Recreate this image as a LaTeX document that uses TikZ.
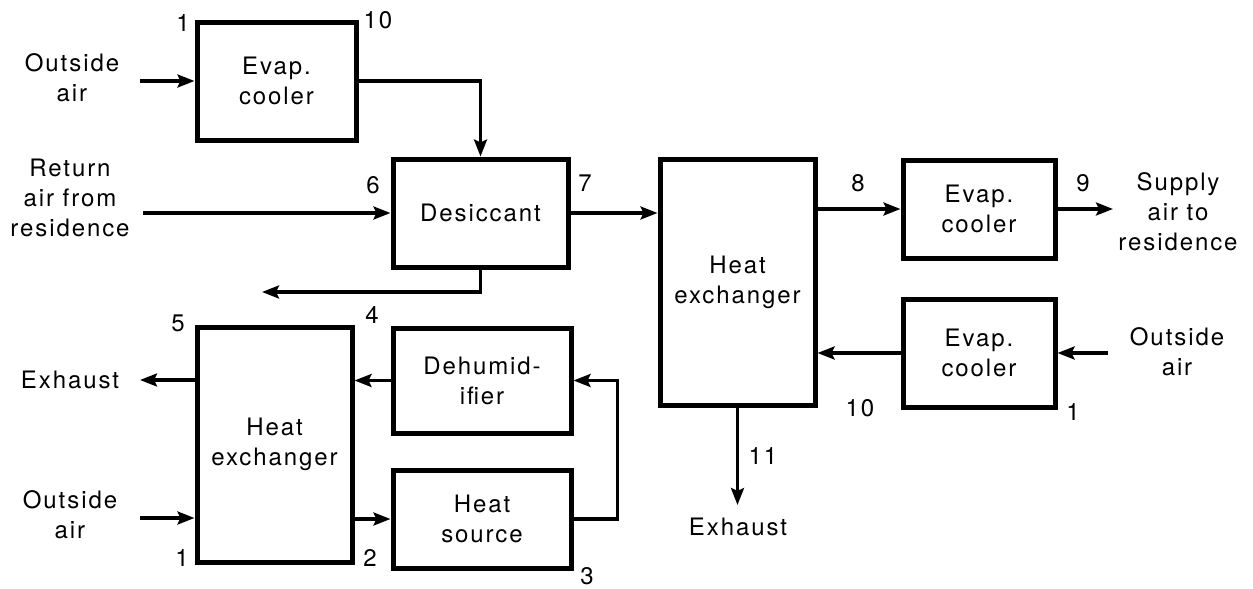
\documentclass[tikz,border=0pt]{standalone}
\usepackage{fontspec}
\setmainfont{TeX Gyre Heros}[LetterSpace=8]
\usetikzlibrary{arrows.meta}
\begin{document}
\begin{tikzpicture}[x=1pt,y=-1pt,
  every node/.style={font=\fontsize{24}{30}\selectfont, align=center, inner sep=0pt},
  box/.style={draw, line width=5pt},
  flow/.style={line width=3.2pt, -{Stealth[length=17pt,width=13pt,inset=3pt]}},
  pipe/.style={line width=3.2pt}]
\useasboundingbox (0,0) rectangle (1253,589);

% boxes
\node[box, minimum width=159pt, minimum height=118pt] (ec1) at (276.5,81) {Evap.\\cooler};
\node[box, minimum width=175pt, minimum height=108pt] (des) at (480.5,213) {Desiccant};
\node[box, minimum width=155pt, minimum height=235pt] (hx1) at (274.5,444.5) {Heat\\exchanger};
\node[box, minimum width=178pt, minimum height=105pt] (dhm) at (482,380.5) {Dehumid-\\ifier};
\node[box, minimum width=178pt, minimum height=98pt] (hs) at (482,519) {Heat\\source};
\node[box, minimum width=155pt, minimum height=246pt] (hx2) at (737.5,282) {Heat\\exchanger};
\node[box, minimum width=152pt, minimum height=98pt] (ec2) at (979,209) {Evap.\\cooler};
\node[box, minimum width=152pt, minimum height=108pt] (ec3) at (979,353) {Evap.\\cooler};

% free texts
\node (oa1) at (72,78) {Outside\\air};
\node (ret) at (70,198) {Return\\air from\\residence};
\node (sup) at (1178,212) {Supply\\air to\\residence};
\node (oa2) at (1177,352) {Outside\\air};
\node (exl) at (70,380) {Exhaust};
\node (oa3) at (70,515) {Outside\\air};
\node (exb) at (738,527) {Exhaust};

% free ends
\coordinate (a1) at (140,81);
\coordinate (a2) at (143,213);
\coordinate (a3) at (262,292);
\coordinate (a4) at (1113,209);
\coordinate (a5) at (1108,353);
\coordinate (a6) at (737.5,505);
\coordinate (a7) at (140,380);
\coordinate (a8) at (140,518);

% connectors
\draw[flow] (a1) -- (ec1.west);
\draw[flow] (ec1.east) -| (des.north);
\draw[flow] (a2) -- (des.west);
\draw[flow] (des.south) |- (a3);
\draw[flow] (des.east) -- (des.east -| hx2.west);
\draw[flow] (ec2.west -| hx2.east) -- (ec2.west);
\draw[flow] (ec2.east) -- (a4);
\draw[flow] (a5) -- (ec3.east);
\draw[flow] (ec3.west) -- (ec3.west -| hx2.east);
\draw[flow] (hx2.south) -- (a6);
\draw[flow] (hx1.west |- a7) -- (a7);
\draw[flow] (a8) -- (a8 -| hx1.west);
\draw[flow] (dhm.west) -- (dhm.west -| hx1.east);
\draw[flow] (hs.west -| hx1.east) -- (hs.west);
\draw[flow] (hs.east) -- ++(44,0) |- (dhm.east);

% state numbers
\node at (183,23) {1};
\node at (378,20) {10};
\node at (373,185) {6};
\node at (585,183) {7};
\node at (858,183) {8};
\node at (1083,183) {9};
\node at (860,408) {10};
\node at (1073,412) {1};
\node at (178,323) {5};
\node at (372,315) {4};
\node at (182,558) {1};
\node at (370,558) {2};
\node at (587,576) {3};
\node at (763,456) {11};
\end{tikzpicture}
\end{document}
